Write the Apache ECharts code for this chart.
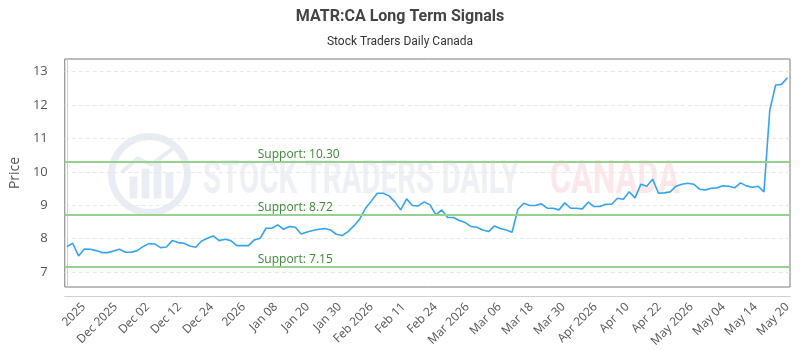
<!DOCTYPE html>
<html>
<head>
<meta charset="utf-8">
<script src="https://cdn.jsdelivr.net/npm/echarts@6/dist/echarts.min.js"></script>
<style>
  html, body { margin: 0; padding: 0; background: #fff; }
  #chart { width: 800px; height: 350px; }
</style>
</head>
<body>
<div id="chart"></div>
<script>
// closing prices, one per trading session
const prices = [
  7.76, 7.86, 7.48, 7.69, 7.68, 7.64, 7.58, 7.58, 7.63, 7.68, 7.59, 7.59, 7.64, 7.76, 7.85, 7.84, 7.73, 7.75, 7.94, 7.88, 7.86,
  7.78, 7.74, 7.93, 8.01, 8.08, 7.94, 7.98, 7.94, 7.79, 7.79, 7.79, 7.96, 8.01, 8.31, 8.31, 8.41, 8.28, 8.36, 8.34, 8.14, 8.20,
  8.24, 8.28, 8.30, 8.26, 8.13, 8.09, 8.21, 8.38, 8.59, 8.91, 9.13, 9.36, 9.36, 9.28, 9.10, 8.86, 9.19, 8.99, 8.98, 9.10,
  9.01, 8.71, 8.86, 8.63, 8.63, 8.54, 8.48, 8.36, 8.34, 8.26, 8.21, 8.38, 8.30, 8.26, 8.19, 8.88, 9.06, 8.99, 8.99, 9.04, 8.91,
  8.91, 8.86, 9.07, 8.91, 8.91, 8.89, 9.09, 8.96, 8.96, 9.03, 9.03, 9.21, 9.18, 9.40, 9.22, 9.63, 9.57, 9.78, 9.36, 9.37,
  9.40, 9.57, 9.63, 9.66, 9.63, 9.48, 9.46, 9.51, 9.52, 9.58, 9.57, 9.52, 9.67, 9.58, 9.54, 9.57, 9.40, 11.85, 12.60, 12.62, 12.82
];

const supports = [10.30, 8.72, 7.15];

const xLabels = [
  "2025", "Dec 2025", "Dec 02", "Dec 12", "Dec 24", "2026", "Jan 08", "Jan 20", "Jan 30",
  "Feb 2026", "Feb 11", "Feb 24", "Mar 2026", "Mar 06", "Mar 18", "Mar 30", "Apr 2026",
  "Apr 10", "Apr 22", "May 2026", "May 04", "May 14", "May 20"
];
const yTicks = [7, 8, 9, 10, 11, 12, 13];

// labels sit every ~5.46 sessions, the last one on the last session
const labelStep = 5.46;
const lastIdx = prices.length - 1;
const labelAt = xLabels.map((_, j) => lastIdx - (xLabels.length - 1 - j) * labelStep);

const chart = echarts.init(document.getElementById("chart"));

const option = {
  animation: false,
  title: {
    text: "MATR:CA Long Term Signals",
    subtext: "Stock Traders Daily Canada",
    left: "center",
    top: 4,
    itemGap: 11,
    textStyle: { fontFamily: "Roboto", fontSize: 16, fontWeight: "bold", color: "#444" },
    subtextStyle: { fontFamily: "Roboto", fontSize: 12, color: "#333" },
  },
  graphic: [
    {
      type: "group",
      left: 108, top: 133, silent: true,
      children: [
        { type: "circle", shape: { cx: 42, cy: 42, r: 38 }, style: { fill: "none", stroke: "#e8ecf3", lineWidth: 7 } },
        { type: "rect", shape: { x: 22, y: 44, width: 8, height: 22 }, style: { fill: "#eaeef4" } },
        { type: "rect", shape: { x: 34, y: 36, width: 8, height: 30 }, style: { fill: "#eaeef4" } },
        { type: "rect", shape: { x: 46, y: 28, width: 8, height: 38 }, style: { fill: "#eaeef4" } },
        { type: "rect", shape: { x: 58, y: 40, width: 8, height: 26 }, style: { fill: "#eaeef4" } },
        { type: "polyline", shape: { points: [[14, 40], [30, 26], [44, 32], [68, 14]] }, style: { stroke: "#e8ecf3", lineWidth: 4, fill: "none" } },
      ],
    },
    {
      type: "text", left: 203, top: 158, silent: true, scaleX: 0.64,
      style: { text: "STOCK TRADERS DAILY", font: "bold 46px Roboto", fill: "#edf0f5" },
    },
    {
      type: "text", left: 550, top: 158, silent: true, scaleX: 0.7,
      style: { text: "CANADA", font: "bold 46px Roboto", fill: "#fce8ea" },
    },
  ],
  grid: {
    left: 60, right: 10, top: 59, bottom: 63,
    show: true, borderColor: "#7a7a7a", borderWidth: 1, backgroundColor: "transparent",
  },
  xAxis: {
    type: "value",
    min: -0.35,
    max: lastIdx + 0.45,
    offset: 9,
    splitLine: { show: false },
    axisTick: { show: false },
    axisLine: { show: true, lineStyle: { color: "#cfcfcf" } },
    axisLabel: {
      customValues: labelAt,
      rotate: 45,
      margin: 9,
      fontFamily: "Open Sans",
      fontSize: 12,
      color: "#555",
      formatter: (v) => {
        const j = labelAt.findIndex((p) => Math.abs(p - v) < 0.01);
        return j >= 0 ? xLabels[j] : "";
      },
    },
  },
  yAxis: {
    type: "value",
    min: 6.55,
    max: 13.38,
    offset: 10,
    name: "Price",
    nameLocation: "middle",
    nameGap: 28,
    nameTextStyle: { fontFamily: "Open Sans", fontSize: 14, color: "#555" },
    axisLine: { show: true, lineStyle: { color: "#cfcfcf" } },
    axisTick: { show: false, customValues: yTicks },
    axisLabel: { customValues: yTicks, fontFamily: "Open Sans", fontSize: 13, color: "#555", margin: 7 },
    splitLine: { show: true, lineStyle: { color: "#e8e8e8", type: [4, 3] } },
  },
  series: [
    {
      type: "line",
      data: prices.map((p, i) => [i, p]),
      showSymbol: false,
      lineStyle: { color: "#35a3f0", width: 1.6 },
      itemStyle: { color: "#35a3f0" },
      z: 3,
      markLine: {
        silent: true,
        symbol: "none",
        lineStyle: { color: "#96d18f", width: 2, type: "solid" },
        label: {
          position: "insideStartTop",
          distance: [193, 1],
          color: "#3c8a36",
          fontFamily: "Open Sans",
          fontSize: 12,
          formatter: (p) => "Support: " + p.value.toFixed(2),
        },
        data: supports.map((s) => ({ yAxis: s })),
      },
    },
  ],
};

chart.setOption(option);
</script>
</body>
</html>
